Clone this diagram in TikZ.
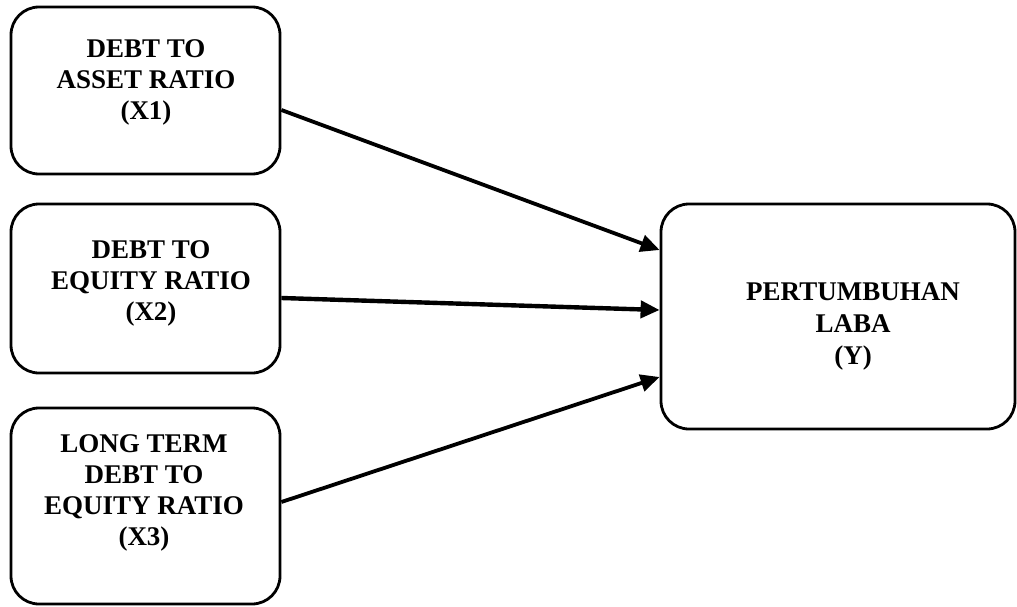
\documentclass[tikz,border=0pt]{standalone}
\usepackage{fontspec}
\setmainfont{Liberation Serif}
\usetikzlibrary{arrows.meta}
\begin{document}
\begin{tikzpicture}[x=1pt,y=-1pt,
  boxnode/.style={draw=black, line width=2.8pt, rounded corners=28pt, fill=white, inner sep=0pt},
  lbl/.style={align=center, font=\fontsize{27}{31}\selectfont\bfseries, inner sep=0pt},
  conn/.style={line width=3.8pt, -{Triangle[length=19pt,width=17pt]}}]
\useasboundingbox (0,0) rectangle (1017,607);
\node[boxnode, minimum width=269pt, minimum height=167pt] (b1) at (145.5,90.5) {};
\node[boxnode, minimum width=269pt, minimum height=169pt] (b2) at (145.5,288.5) {};
\node[boxnode, minimum width=269pt, minimum height=196pt] (b3) at (145.5,506) {};
\node[boxnode, minimum width=354pt, minimum height=225pt] (y) at (838,316.5) {};
\node[lbl] (t1) at (146,82) {DEBT TO\\ASSET RATIO\\(X1)};
\node[lbl] (t2) at (151,283) {DEBT TO\\EQUITY RATIO\\(X2)};
\node[lbl] (t3) at (144,493) {LONG TERM\\DEBT TO\\EQUITY RATIO\\(X3)};
\node[lbl, font=\fontsize{27}{32}\selectfont\bfseries] (ty) at (853,326) {PERTUMBUHAN\\LABA\\(Y)};
\draw[conn] ([yshift=-19.5pt]b1.east) -- ([yshift=66.5pt]y.west);
\draw[conn, line width=4.4pt] ([yshift=-9.5pt]b2.east) -- ([yshift=6.5pt]y.west);
\draw[conn] ([yshift=4pt]b3.east) -- ([yshift=-60.5pt]y.west);
\end{tikzpicture}
\end{document}
